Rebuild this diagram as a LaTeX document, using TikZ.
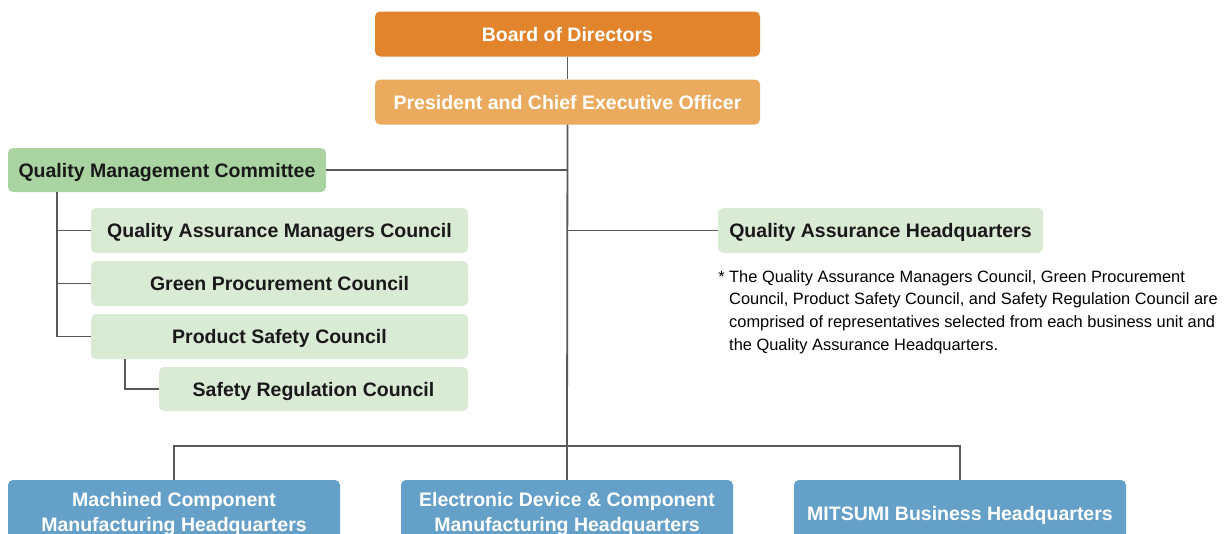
\documentclass[tikz,border=0pt]{standalone}
\usepackage{fontspec}
\setmainfont{Liberation Sans}
\definecolor{boardorange}{HTML}{E1842B}
\definecolor{ceoorange}{HTML}{EBAB5E}
\definecolor{qmcgreen}{HTML}{AAD3A2}
\definecolor{palegreen}{HTML}{D9EAD5}
\definecolor{hqblue}{HTML}{65A0C8}
\definecolor{linegray}{HTML}{595959}
\tikzset{
	box/.style = {rounded corners = 5pt, inner sep = 0pt, align = center, font = \fontsize{19.5}{25}\selectfont\bfseries},
	onerow/.style = {text height = 14, text depth = 0},
	topbox/.style = {box, onerow, minimum width = 385, minimum height = 45, text = white},
	greenbox/.style = {box, onerow, fill = palegreen, minimum height = 45, text = black!90},
	hqbox/.style = {box, fill = hqblue, minimum width = 332, minimum height = 67, text = white},
	link/.style = {draw = linegray, line width = 1.8pt}
}
\begin{document}
\begin{tikzpicture}[x = 1pt, y = -1pt]
	\useasboundingbox (0,0) rectangle (1226,533);
	\clip (0,0) rectangle (1226,533);
	\node [topbox, fill = boardorange] (board) at (567.5,34) {Board of Directors};
	\node [topbox, fill = ceoorange] (ceo) at (567.5,102) {President and Chief Executive Officer};
	\node [greenbox, fill = qmcgreen, minimum width = 318, minimum height = 44] (qmc) at (167,170) {Quality Management Committee};
	\node [greenbox, minimum width = 377] (qamc) at (279.5,230.5) {Quality Assurance Managers Council};
	\node [greenbox, minimum width = 377] (gpc) at (279.5,283.5) {Green Procurement Council};
	\node [greenbox, minimum width = 377] (psc) at (279.5,336.5) {Product Safety Council};
	\node [greenbox, minimum width = 309, minimum height = 44] (src) at (313.5,389) {Safety Regulation Council};
	\node [greenbox, minimum width = 325] (qahq) at (880.5,230.5) {Quality Assurance Headquarters};
	\node [anchor = north west, align = left, inner sep = 0pt, font = \fontsize{16.4}{22.7}\selectfont] (note) at (729,270)
		{\llap{* }The Quality Assurance Managers Council, Green Procurement\\Council, Product Safety Council, and Safety Regulation Council are\\comprised of representatives selected from each business unit and\\the Quality Assurance Headquarters.};
	\node [hqbox] (mach) at (174,513.5) {Machined Component\\Manufacturing Headquarters};
	\node [hqbox] (elec) at (567,513.5) {Electronic Device \& Component\\Manufacturing Headquarters};
	\node [hqbox, onerow] (mitsumi) at (960,513.5) {MITSUMI Business Headquarters};
	\coordinate (bar) at (567,446);
	%\draw [link] (board) -- (ceo);
	\draw [link] (board.south) -- (ceo.north);
	\draw [link] (ceo.south) -- (bar);
	\draw [link] (qmc.east) -- (qmc -| ceo);
	\draw [link] (qahq.west) -- (qahq -| ceo);
	\draw [link] ([xshift = 49]qmc.south west) |- (psc.west);
	\draw [link] ([xshift = 49]qmc.south west |- qamc) -- (qamc.west);
	\draw [link] ([xshift = 49]qmc.south west |- gpc) -- (gpc.west);
	\draw [link] ([xshift = 34]psc.south west) |- (src.west);
	\draw [link] (mach.north) |- (bar) -| (mitsumi.north);
	\draw [link] (bar) -- (elec.north);
\end{tikzpicture}
\end{document}
